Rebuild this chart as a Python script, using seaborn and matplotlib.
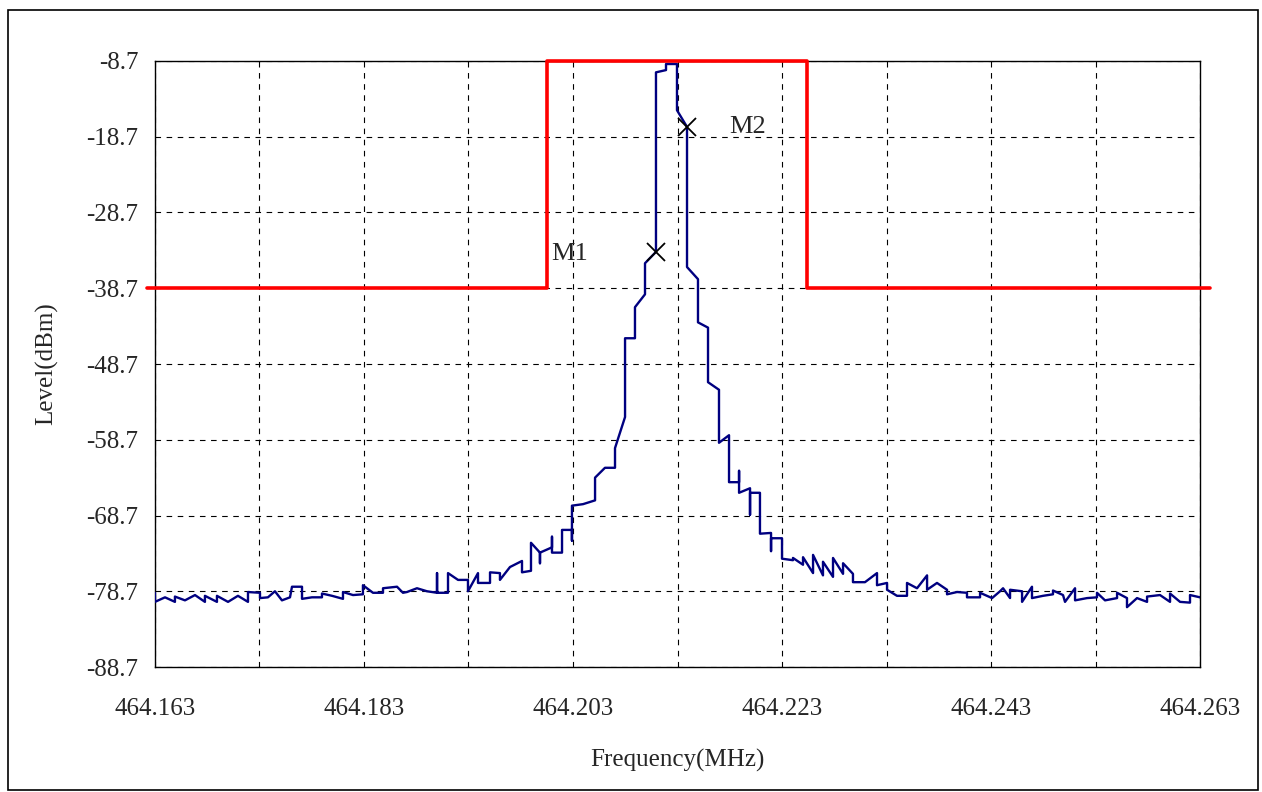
import numpy as np
import pandas as pd
import matplotlib
matplotlib.use("Agg")
import matplotlib.pyplot as plt
import seaborn as sns
from matplotlib.patches import Rectangle

F0 = 464.163  # start frequency (MHz)

# spectrum trace, offset from F0 in kHz and level in dBm
trace_khz = [0, 0, 0.96, 1.91, 1.91, 2.87, 3.83, 4.78, 4.78, 5.93, 5.93, 6.99, 7.94, 8.90, 8.90,
             10.05, 10.05, 10.81, 11.48, 12.15, 12.92, 13.11, 14.07, 14.07, 15.02, 15.98, 15.98,
             16.94, 17.99, 17.99, 18.95, 19.90, 19.90, 20.86, 21.82, 21.82, 23.16, 23.73, 24.11,
             25.07, 26.03, 26.99, 26.99, 26.99, 28.04, 28.04, 29.00, 29.95, 29.95, 30.91, 30.91,
             32.06, 32.06, 33.01, 33.01, 33.97, 35.12, 35.12, 35.98, 35.98, 36.84, 36.84, 36.84,
             37.99, 37.99, 37.99, 38.95, 38.95, 39.90, 39.90, 39.90, 40.96, 42.11, 42.11, 43.06,
             44.02, 44.02, 44.98, 44.98, 45.93, 45.93, 46.89, 46.89, 47.94, 47.94, 48.90, 48.90,
             49.95, 49.95, 50.91, 50.91, 51.96, 51.96, 52.92, 52.92, 53.97, 53.97, 54.93, 54.93,
             55.89, 55.89, 55.89, 56.94, 56.94, 56.94, 57.89, 57.89, 58.95, 58.95, 58.95, 60.00,
             60.00, 61.05, 61.05, 62.01, 62.01, 62.97, 62.97, 63.92, 63.92, 64.88, 64.88, 65.84,
             65.84, 66.79, 66.79, 67.94, 69.09, 69.09, 70.05, 70.05, 71.00, 71.96, 71.96, 72.92,
             73.88, 73.88, 74.83, 75.79, 75.79, 76.75, 77.70, 77.70, 78.95, 78.95, 80.10, 80.86,
             81.15, 81.82, 81.82, 82.97, 82.97, 83.92, 83.92, 84.98, 85.93, 85.93, 86.89, 87.08,
             88.04, 88.04, 89.19, 90.14, 90.14, 90.91, 92.06, 92.06, 93.01, 93.01, 93.97, 94.93,
             94.93, 96.17, 97.13, 97.13, 98.09, 99.04, 99.04, 100.0]
trace_dbm = [-78.9, -80.1, -79.5, -80.1, -79.4, -79.9, -79.2, -80.1, -79.3, -80.1, -79.3, -80.1, -79.3, -80.1, -78.8,
             -78.9, -79.6, -79.5, -78.7, -79.9, -79.5, -78.1, -78.1, -79.7, -79.5, -79.5, -79.0,
             -79.3, -79.7, -78.8, -79.2, -79.1, -77.9, -78.9, -78.9, -78.3, -78.1, -78.9, -78.8,
             -78.3, -78.7, -78.9, -76.3, -78.9, -78.9, -76.3, -77.2, -77.2, -78.7, -76.3, -77.6,
             -77.6, -76.2, -76.3, -77.2, -75.5, -74.7, -76.2, -76.0, -72.3, -73.6, -75.0, -73.6,
             -72.9, -71.5, -73.6, -73.6, -70.6, -70.6, -72.0, -67.4, -67.2, -66.7, -63.7, -62.4,
             -62.4, -59.8, -55.7, -45.3, -45.3, -41.2, -39.5, -35.4, -33.9, -10.2, -9.9, -9.1,
             -9.1, -15.2, -17.4, -35.9, -37.5, -43.2, -43.9, -51.1, -52.1, -59.1, -58.1, -64.3,
             -64.3, -62.8, -65.7, -65.1, -68.6, -65.7, -65.7, -71.1, -71.0, -73.4, -71.7, -71.7,
             -74.4, -74.6, -74.3, -75.2, -74.2, -76.3, -73.9, -76.6, -74.8, -76.8, -74.3, -76.4,
             -75.0, -76.4, -77.5, -77.5, -76.3, -77.9, -77.6, -78.5, -79.3, -79.3, -77.6, -78.3,
             -76.6, -78.5, -77.6, -78.5, -79.1, -78.8, -78.9, -79.5, -79.5, -78.9, -79.6, -78.7,
             -78.3, -79.6, -78.5, -78.7, -80.1, -78.1, -79.6, -79.3, -79.1, -78.6, -79.2, -80.1,
             -78.3, -79.9, -79.6, -79.5, -78.9, -79.9, -79.6, -78.9, -79.6, -80.8, -79.6, -80.1,
             -79.4, -79.2, -80.1, -79.0, -80.1, -80.2, -79.2, -79.5]

# spectrum emission mask
mask_freq = [464.1622, 464.2005, 464.2005, 464.2254, 464.2254, 464.2640]
mask_dbm = [-38.7, -38.7, -8.7, -8.7, -38.7, -38.7]

# markers
marker_names = ["M1", "M2"]
marker_freq = [464.21095, 464.21391]
marker_dbm = [-33.9, -17.4]

x_ticks = [464.163, 464.183, 464.203, 464.223, 464.243, 464.263]
y_ticks = [-88.7, -78.7, -68.7, -58.7, -48.7, -38.7, -28.7, -18.7, -8.7]

sns.set_style("white")
plt.rcParams['font.family'] = ['Liberation Serif', 'DejaVu Serif']

trace = pd.DataFrame({"freq": F0 + np.array(trace_khz) / 1000.0, "level": trace_dbm})
mask = pd.DataFrame({"freq": mask_freq, "level": mask_dbm})

fig = plt.figure(figsize=(12.62, 7.92), dpi=100)
ax = fig.add_axes([0.1228, 0.1578, 0.8281, 0.7652])

sns.lineplot(data=trace, x="freq", y="level", sort=False, estimator=None,
             color="#000080", linewidth=1.7, ax=ax, zorder=3)
sns.lineplot(data=mask, x="freq", y="level", sort=False, estimator=None,
             color="#ff0000", linewidth=2.6, ax=ax, zorder=4, clip_on=False)
ax.plot(marker_freq, marker_dbm, linestyle="none", marker="x", color="black",
        markersize=13, markeredgewidth=1.3, zorder=5)
ax.text(marker_freq[0] - 0.0100, marker_dbm[0] - 0.3, marker_names[0], fontsize=19,
        va="center", ha="left")
ax.text(marker_freq[1] + 0.0040, marker_dbm[1], marker_names[1], fontsize=19,
        va="center", ha="left")

ax.set_xlim(464.163, 464.263)
ax.set_ylim(-88.7, -8.7)
ax.set_xticks(x_ticks)
ax.set_xticklabels([f"{v:.3f}" for v in x_ticks])
ax.set_xticks(np.arange(464.163, 464.2631, 0.01), minor=True)
ax.set_yticks(y_ticks)
ax.set_yticklabels([f"{v:.1f}" for v in y_ticks])
ax.grid(True, which="both", color="black", linestyle=(0, (5, 5)), linewidth=0.8)
ax.tick_params(axis="both", which="both", length=0, labelsize=18)
ax.tick_params(axis="x", pad=22)
ax.tick_params(axis="y", pad=12)
for s in ax.spines.values():
    s.set_color("black")
    s.set_linewidth(1.0)
ax.set_xlabel("Frequency(MHz)", fontsize=18, labelpad=21)
ax.set_ylabel("Level(dBm)", fontsize=18, labelpad=20)

fig.patches.append(Rectangle((8 / 1262, 2 / 792), 1250 / 1262, 780 / 792, transform=fig.transFigure,
                             fill=False, edgecolor="black", linewidth=1.2))

fig.savefig("out.png", dpi=100)
